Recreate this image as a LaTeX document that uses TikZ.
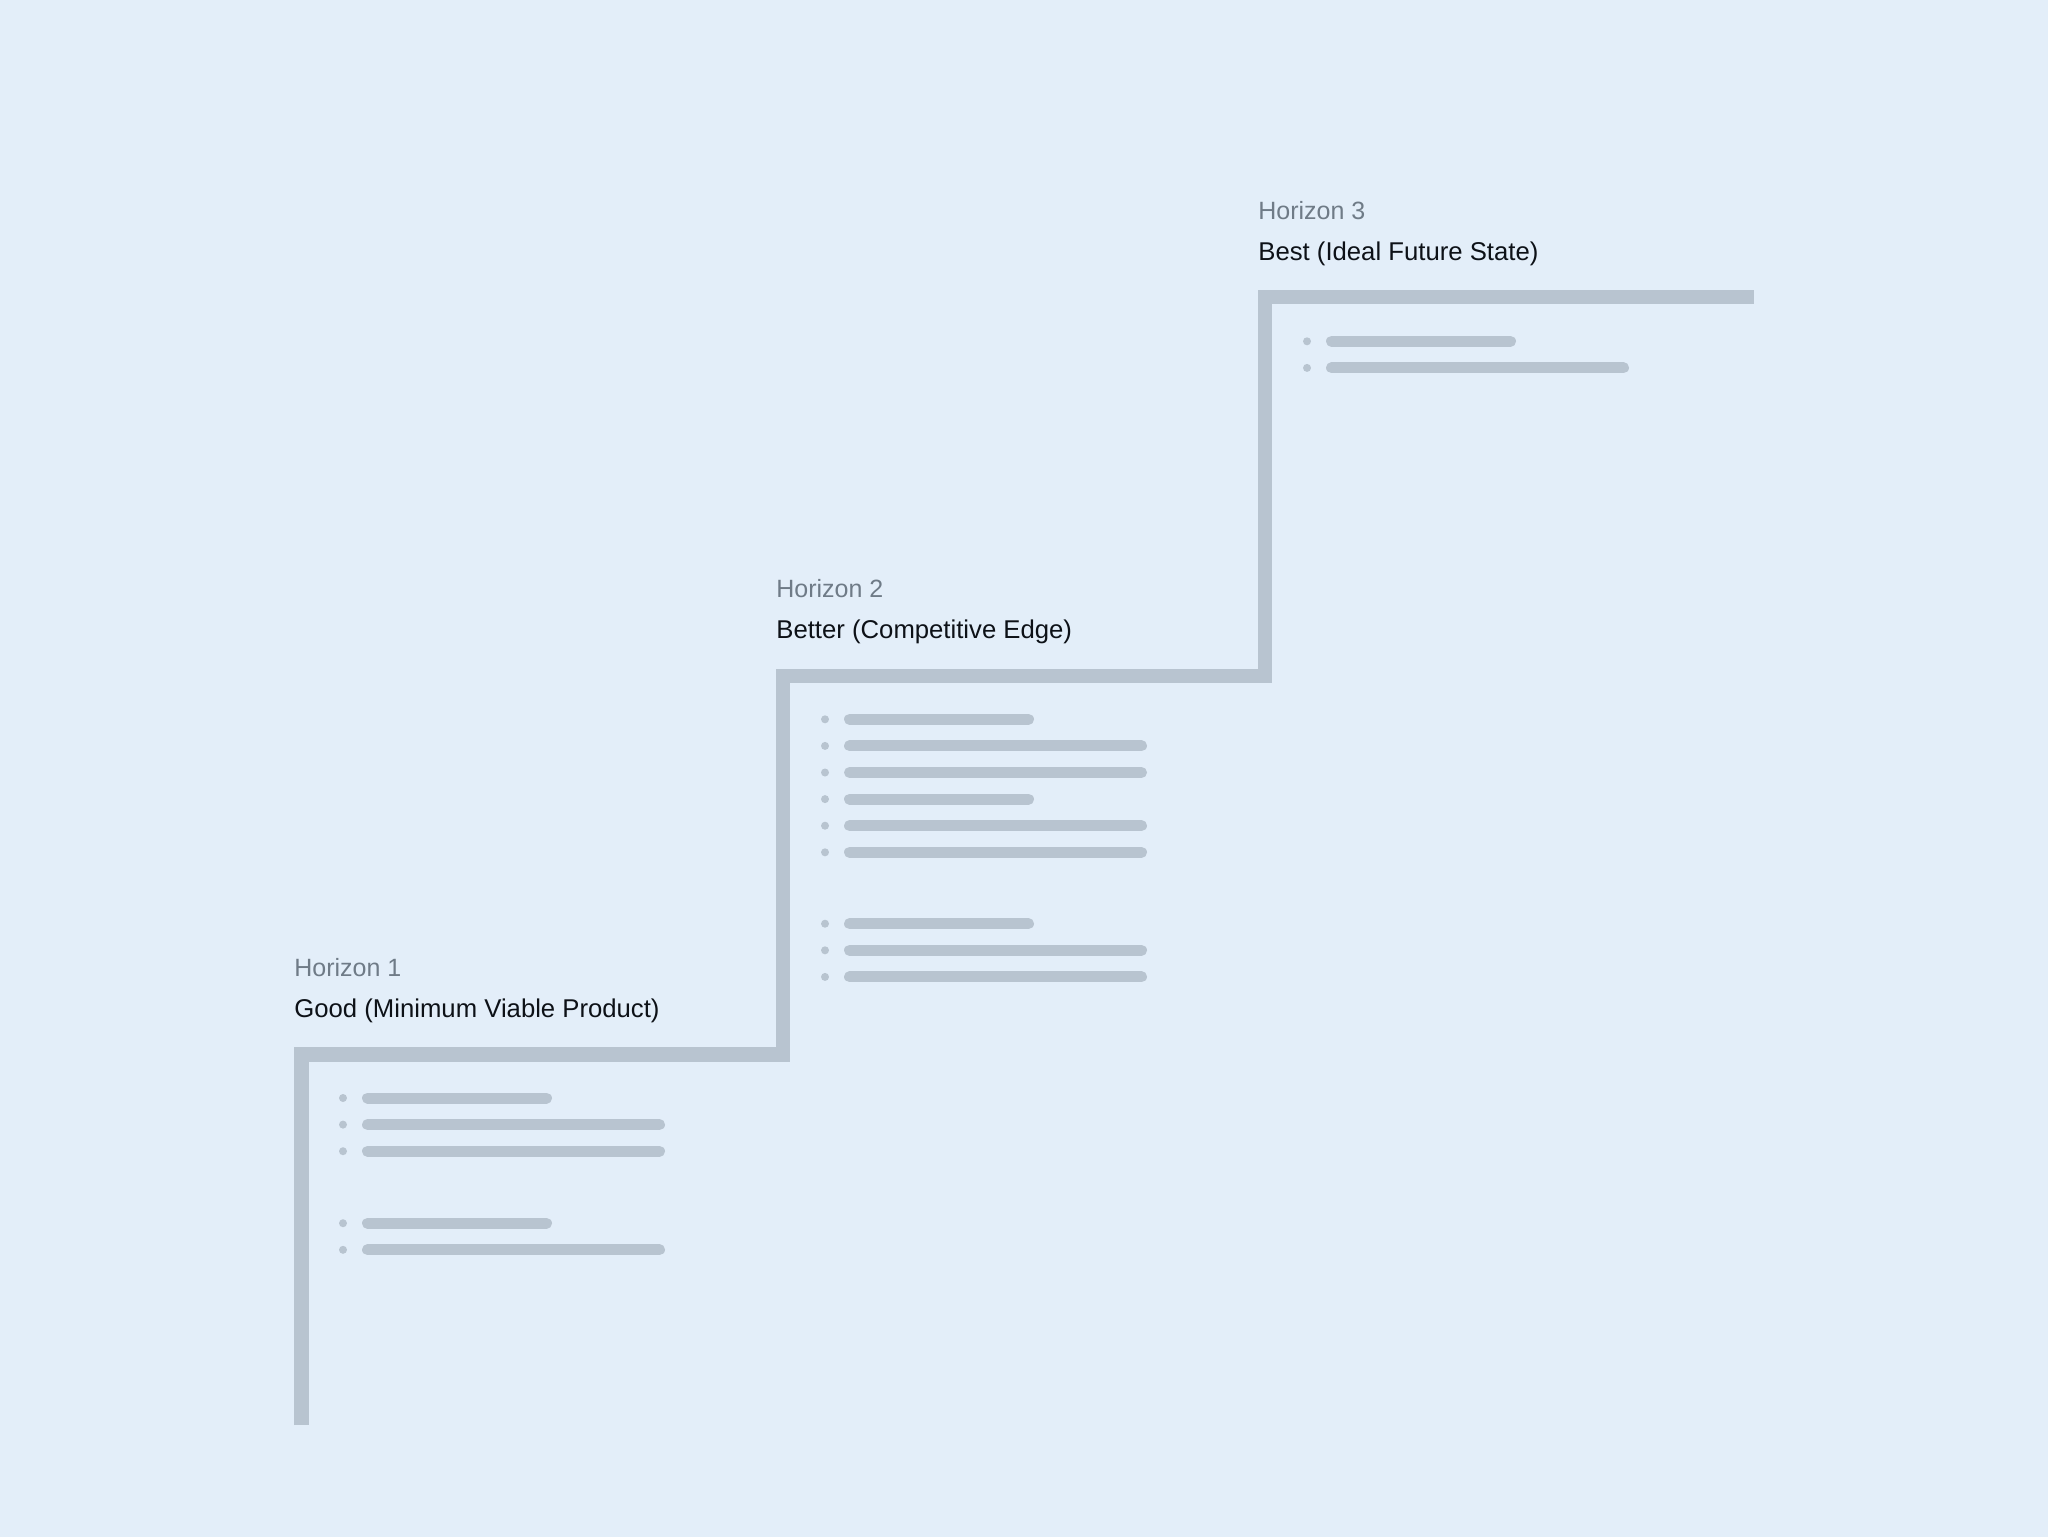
\documentclass[tikz,border=0pt]{standalone}
\usepackage{fontspec}
\setmainfont{Liberation Sans}
\definecolor{bgc}{RGB}{227,238,249}
\definecolor{linec}{RGB}{184,196,208}
\definecolor{graytxt}{RGB}{111,123,135}
\definecolor{darktxt}{RGB}{13,17,23}
\newcommand{\hzrow}[3]{%
  \fill[linec] (#1+49,#2) circle (2pt);
  \draw[barline] (#1+73.5,#2) -- (#1+#3,#2);}
\begin{document}
\begin{tikzpicture}[x=0.5pt,y=-0.5pt,
  stair/.style={draw=linec,line width=7.25pt,line join=miter,line cap=butt},
  barline/.style={draw=linec,line width=5.5pt,line cap=round},
  hz/.style={anchor=base west,inner sep=0pt,font=\fontsize{12.5}{15}\selectfont,text=graytxt},
  sub/.style={anchor=base west,inner sep=0pt,font=\fontsize{12.85}{15}\selectfont,text=darktxt}]
\fill[bgc] (0,0) rectangle (2048,1537);
\useasboundingbox (0,0) rectangle (2048,1537);
% staircase
\coordinate (s0) at (301.25,1425);
\coordinate (s1) at (301.25,1054.5);
\coordinate (s2) at (783,1054.5);
\coordinate (s3) at (783,676);
\coordinate (s4) at (1265,676);
\coordinate (s5) at (1265,297);
\coordinate (s6) at (1754,297);
\draw[stair] (s0) -- (s1) -- (s2) -- (s3) -- (s4) -- (s5) -- (s6);
% labels
\node[hz]  (h1) at (294,976)  {Horizon 1};
\node[sub] (g1) at (294,1017) {Good (Minimum Viable Product)};
\node[hz]  (h2) at (776,597.5)  {Horizon 2};
\node[sub] (g2) at (776,638.5) {Better (Competitive Edge)};
\node[hz]  (h3) at (1258,219)  {Horizon 3};
\node[sub] (g3) at (1258,260) {Best (Ideal Future State)};
% bullet rows, step 1
\hzrow{294}{1098}{252.5}
\hzrow{294}{1124.6}{365.5}
\hzrow{294}{1151.2}{365.5}
\hzrow{294}{1223.2}{252.5}
\hzrow{294}{1249.8}{365.5}
% step 2
\hzrow{776}{719.3}{252.5}
\hzrow{776}{745.9}{365.5}
\hzrow{776}{772.5}{365.5}
\hzrow{776}{799.1}{252.5}
\hzrow{776}{825.7}{365.5}
\hzrow{776}{852.3}{365.5}
\hzrow{776}{923.7}{252.5}
\hzrow{776}{950.3}{365.5}
\hzrow{776}{976.9}{365.5}
% step 3
\hzrow{1258}{341.3}{252.5}
\hzrow{1258}{367.9}{365.5}
\end{tikzpicture}
\end{document}
